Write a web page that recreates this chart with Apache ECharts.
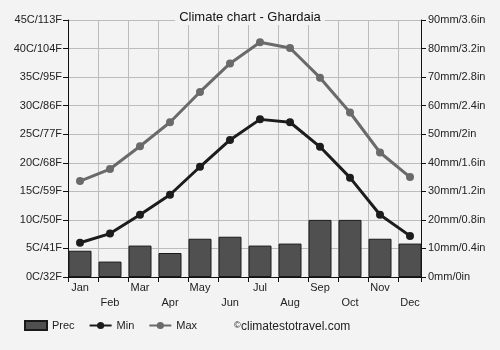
<!DOCTYPE html>
<html>
<head>
<meta charset="utf-8">
<script src="https://cdn.jsdelivr.net/npm/echarts@6/dist/echarts.min.js"></script>
<style>
html,body{margin:0;padding:0;background:#f3f3f3;}
#c{width:500px;height:350px;}
</style>
</head>
<body>
<div id="c"></div>
<script>
var months = ['Jan','Feb','Mar','Apr','May','Jun','Jul','Aug','Sep','Oct','Nov','Dec'];
var prec = [9.2, 5.4, 11, 8.4, 13.4, 14.1, 11, 11.7, 20, 20, 13.4, 11.7];
var tmin = [6.0, 7.6, 10.9, 14.4, 19.3, 24.0, 27.6, 27.1, 22.8, 17.4, 10.9, 7.2];
var tmax = [16.8, 18.9, 22.9, 27.1, 32.4, 37.4, 41.1, 40.1, 34.9, 28.8, 21.8, 17.5];
var tempLabels = ['0C/32F','5C/41F','10C/50F','15C/59F','20C/68F','25C/77F','30C/86F','35C/95F','40C/104F','45C/113F'];
var precLabels = ['0mm/0in','10mm/0.4in','20mm/0.8in','30mm/1.2in','40mm/1.6in','50mm/2in','60mm/2.4in','70mm/2.8in','80mm/3.2in','90mm/3.6in'];

var FONT = "'Liberation Sans', Arial, sans-serif";
var chart = echarts.init(document.getElementById('c'), null, {renderer:'canvas'});
var axisLineStyle = {color:'#111', width:1};
var gridColor = '#bcbcbc';
chart.setOption({
  backgroundColor:'#f3f3f3',
  animation:false,
  textStyle:{fontFamily:FONT},
  title:{
    text:'Climate chart - Ghardaia',
    left:'center', top:10,
    padding:[1,4],
    backgroundColor:'#f3f3f3',
    textStyle:{fontSize:13, fontWeight:'normal', color:'#111', fontFamily:FONT}
  },
  legend:{
    left:24, top:320, padding:0,
    itemWidth:22, itemHeight:9, itemGap:14,
    textStyle:{fontSize:11, color:'#222', fontFamily:FONT},
    data:[{name:'Prec', icon:'rect'},'Min','Max']
  },
  graphic:[
    {type:'text', left:234, top:321, style:{text:'©', fontSize:9, fill:'#222', fontFamily:FONT}},
    {type:'text', left:241, top:321, style:{text:'climatestotravel.com', fontSize:12, fill:'#222', fontFamily:FONT}}
  ],
  grid:[
    {left:68, right:79, top:20, bottom:73},
    {left:65, right:75, top:20, bottom:73}
  ],
  xAxis:[
    {type:'value', gridIndex:0, min:0, max:353, interval:30,
     axisLine:{show:true, lineStyle:axisLineStyle},
     axisTick:{show:true, length:5, lineStyle:axisLineStyle},
     axisLabel:{show:false},
     splitLine:{show:true, lineStyle:{color:gridColor, width:1}}},
    {type:'category', gridIndex:1, data:months, boundaryGap:true,
     axisLine:{show:false}, axisTick:{show:false}, splitLine:{show:false},
     axisLabel:{interval:0, margin:3, fontSize:11, color:'#222', lineHeight:15.5, fontFamily:FONT,
       formatter:function(v,i){return i%2 ? '\n'+v : v;}}}
  ],
  yAxis:[
    {type:'value', gridIndex:0, position:'left', min:0, max:45, interval:5,
     axisLine:{show:true, lineStyle:axisLineStyle},
     axisTick:{show:true, length:5, lineStyle:axisLineStyle},
     axisLabel:{margin:6, fontSize:11, color:'#222', fontFamily:FONT,
       formatter:function(v){return tempLabels[Math.round(v/5)];}},
     splitLine:{show:true, lineStyle:{color:gridColor, width:1}}},
    {type:'value', gridIndex:0, position:'right', min:0, max:90, interval:10,
     axisLine:{show:true, lineStyle:axisLineStyle},
     axisTick:{show:true, length:5, lineStyle:axisLineStyle},
     axisLabel:{margin:7, fontSize:11, color:'#222', fontFamily:FONT,
       formatter:function(v){return precLabels[Math.round(v/10)];}},
     splitLine:{show:false}},
    {type:'value', gridIndex:1, min:0, max:45, show:false},
    {type:'value', gridIndex:1, min:0, max:90, show:false}
  ],
  series:[
    {name:'Prec', type:'bar', xAxisIndex:1, yAxisIndex:3, data:prec, barWidth:23,
     itemStyle:{color:'#505050', borderColor:'#1a1a1a', borderWidth:1}},
    {name:'Min', type:'line', xAxisIndex:1, yAxisIndex:2, data:tmin,
     symbol:'circle', symbolSize:8,
     lineStyle:{color:'#1c1c1c', width:3}, itemStyle:{color:'#1c1c1c'}},
    {name:'Max', type:'line', xAxisIndex:1, yAxisIndex:2, data:tmax,
     symbol:'circle', symbolSize:8,
     lineStyle:{color:'#6a6a6a', width:3}, itemStyle:{color:'#6a6a6a'}}
  ]
});
</script>
</body>
</html>
